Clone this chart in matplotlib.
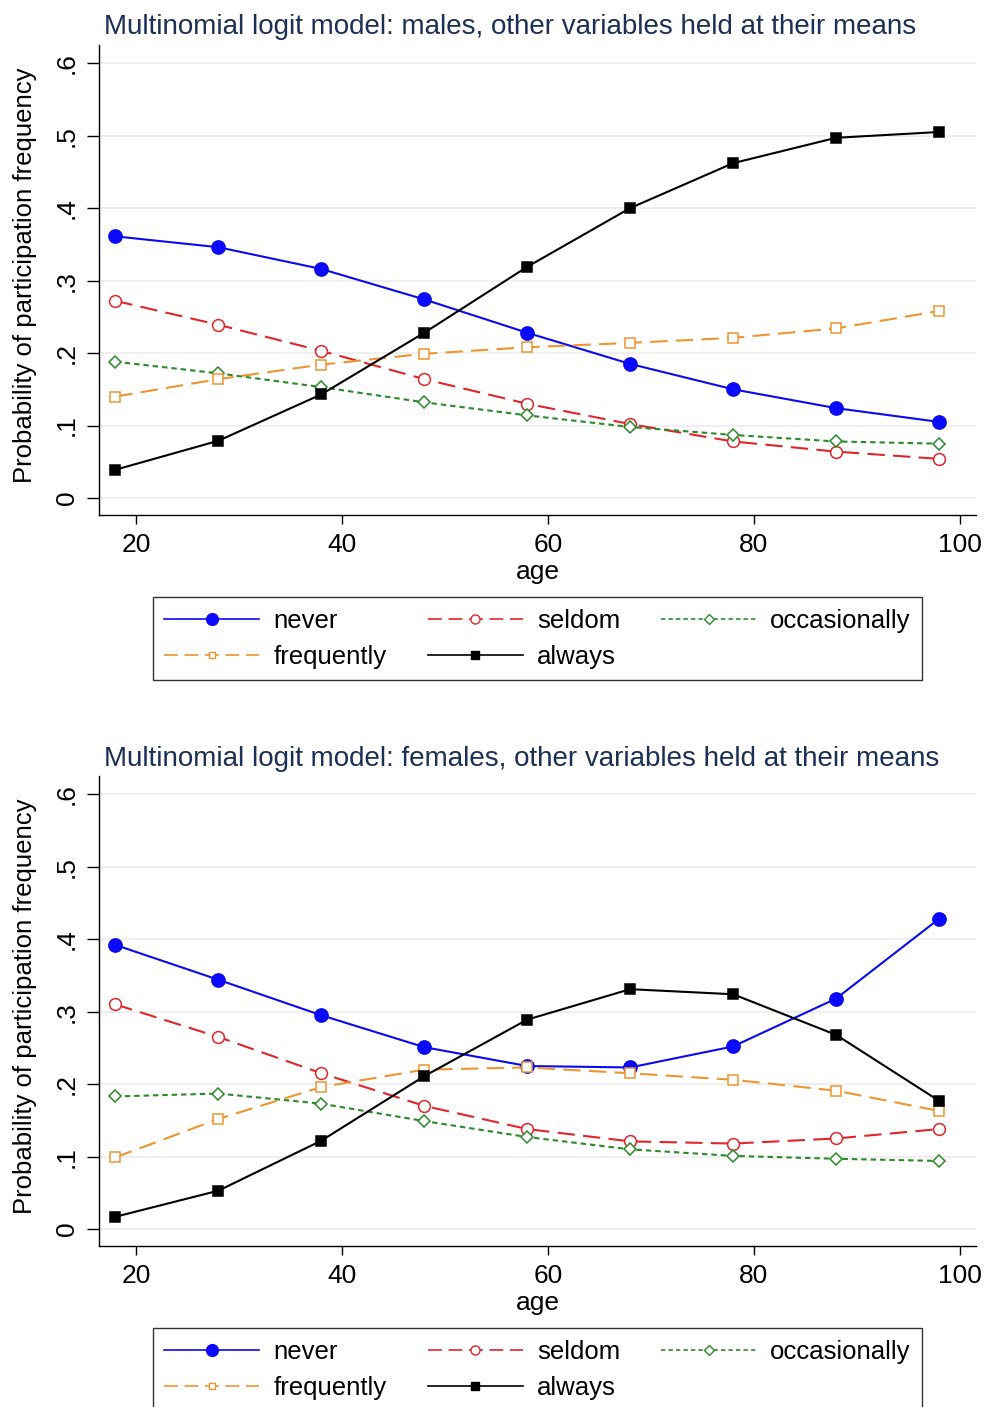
"""Predicted probabilities of participation frequency by age, males vs females."""

import matplotlib

matplotlib.use("Agg")
import matplotlib.pyplot as plt
from matplotlib.lines import Line2D

plt.rcParams["font.family"] = ["Liberation Sans", "DejaVu Sans"]

AGE = [18, 28, 38, 48, 58, 68, 78, 88, 98]

MALE_NEVER = [0.361, 0.346, 0.316, 0.274, 0.228, 0.185, 0.150, 0.124, 0.105]
MALE_SELDOM = [0.272, 0.239, 0.203, 0.164, 0.130, 0.102, 0.078, 0.064, 0.054]
MALE_OCCASIONALLY = [0.188, 0.172, 0.153, 0.132, 0.114, 0.098, 0.087, 0.078, 0.075]
MALE_FREQUENTLY = [0.140, 0.164, 0.184, 0.199, 0.208, 0.214, 0.221, 0.234, 0.258]
MALE_ALWAYS = [0.039, 0.079, 0.143, 0.228, 0.319, 0.400, 0.462, 0.497, 0.505]

FEMALE_NEVER = [0.392, 0.344, 0.295, 0.251, 0.225, 0.223, 0.252, 0.318, 0.428]
FEMALE_SELDOM = [0.310, 0.265, 0.215, 0.170, 0.138, 0.121, 0.118, 0.125, 0.138]
FEMALE_OCCASIONALLY = [0.183, 0.187, 0.173, 0.149, 0.127, 0.110, 0.101, 0.097, 0.094]
FEMALE_FREQUENTLY = [0.099, 0.152, 0.196, 0.220, 0.223, 0.215, 0.206, 0.191, 0.163]
FEMALE_ALWAYS = [0.017, 0.053, 0.122, 0.211, 0.289, 0.331, 0.324, 0.268, 0.177]

CATEGORIES = ["never", "seldom", "occasionally", "frequently", "always"]
# legend is filled column by column, so this order gives rows
# never / seldom / occasionally and frequently / always
LEGEND_ORDER = ["never", "frequently", "seldom", "always", "occasionally"]
PANELS = [
    ("Multinomial logit model: males, other variables held at their means",
     [MALE_NEVER, MALE_SELDOM, MALE_OCCASIONALLY, MALE_FREQUENTLY, MALE_ALWAYS]),
    ("Multinomial logit model: females, other variables held at their means",
     [FEMALE_NEVER, FEMALE_SELDOM, FEMALE_OCCASIONALLY, FEMALE_FREQUENTLY, FEMALE_ALWAYS]),
]
Y_TICKS = [0, 0.1, 0.2, 0.3, 0.4, 0.5, 0.6]
Y_TICKLABELS = ["0", ".1", ".2", ".3", ".4", ".5", ".6"]
X_TICKS = [20, 40, 60, 80, 100]

LONG_DASH = (0, (8.3, 4))
SHORT_DASH = (0, (2.6, 1.9))
STYLES = {
    "never": dict(color="#0a0aee", ls="-", marker="o", ms=9.5, mfc="#0a0aff", lms=8.5),
    "seldom": dict(color="#e0252b", ls=LONG_DASH, marker="o", ms=8.5, mfc="white", lms=6.5),
    "occasionally": dict(color="#2a8a2a", ls=SHORT_DASH, marker="D", ms=6.5, mfc="white", lms=5),
    "frequently": dict(color="#ee9530", ls=LONG_DASH, marker="s", ms=6.5, mfc="white", lms=5),
    "always": dict(color="black", ls="-", marker="s", ms=7, mfc="black", lms=5.5),
}
TITLE_COLOR = "#1c2f55"
LW = 1.5

fig = plt.figure(figsize=(9.87, 14.07), dpi=100)
axes_rects = [[0.1003, 0.6340, 0.8886, 0.334], [0.1003, 0.1144, 0.8886, 0.334]]
title_y = [0.9758, 0.4559]
legend_y = [0.5757, 0.0561]

for rect, ty, ly, (title, series) in zip(axes_rects, title_y, legend_y, PANELS):
    ax = fig.add_axes(rect)
    for cat, vals in zip(CATEGORIES, series):
        st = STYLES[cat]
        ax.plot(AGE, vals, color=st["color"], ls=st["ls"], lw=LW,
                marker=st["marker"], ms=st["ms"], mfc=st["mfc"],
                mec=st["color"], mew=1.1, zorder=3)
    ax.set_xlim(16.4, 101.6)
    ax.set_ylim(-0.0234, 0.625)
    ax.set_yticks(Y_TICKS)
    ax.set_yticklabels(Y_TICKLABELS, rotation=90, va="center")
    ax.set_xticks(X_TICKS)
    ax.grid(axis="y", color="#ececec", lw=1.2)
    ax.set_axisbelow(True)
    for side in ("top", "right"):
        ax.spines[side].set_visible(False)
    ax.spines["left"].set_linewidth(1.0)
    ax.spines["bottom"].set_linewidth(1.0)
    ax.tick_params(labelsize=19, width=1.0)
    ax.tick_params(axis="x", length=6.5, pad=6.5)
    ax.tick_params(axis="y", length=8.5, pad=6.0)
    ax.set_xlabel("age", fontsize=19)
    ax.xaxis.set_label_coords(0.5, -0.095)
    ax.set_ylabel("Probability of participation frequency", fontsize=18.5)
    ax.yaxis.set_label_coords(-0.071, 0.51)
    fig.text(0.1054, ty, title, fontsize=20, color=TITLE_COLOR, va="baseline")

    handles = []
    for cat in LEGEND_ORDER:
        st = STYLES[cat]
        handles.append(Line2D([], [], color=st["color"], ls=st["ls"], lw=1.2,
                              marker=st["marker"], ms=st["lms"], mfc=st["mfc"],
                              mec=st["color"], mew=1.0, label=cat))
    fig.legend(handles=handles, loc="upper center", bbox_to_anchor=(0.5446, ly),
               ncol=3, fontsize=18.5, frameon=True, fancybox=False,
               edgecolor="black", handlelength=3.7, handletextpad=0.55,
               columnspacing=1.6, borderpad=0.45, labelspacing=0.48,
               borderaxespad=0)

fig.savefig("out.png", dpi=100)
